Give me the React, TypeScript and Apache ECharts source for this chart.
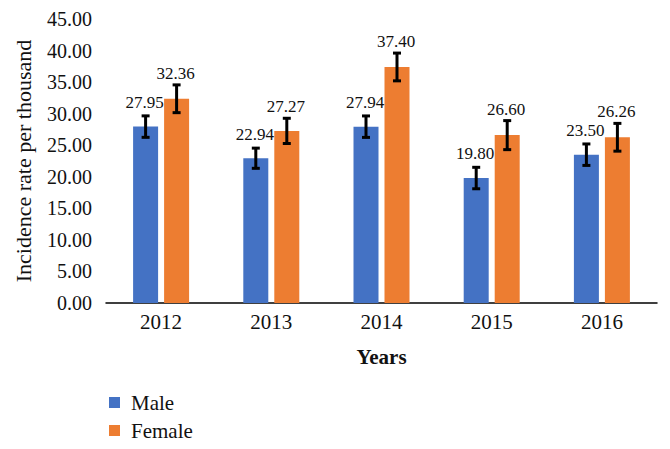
import React, { useEffect, useRef } from "react";
import * as echarts from "echarts";

const years = ["2012", "2013", "2014", "2015", "2016"];
const maleValues = [27.95, 22.94, 27.94, 19.8, 23.5];
const femaleValues = [32.36, 27.27, 37.4, 26.6, 26.26];
const maleErrors = [1.7, 1.6, 1.7, 1.7, 1.7];
const femaleErrors = [2.2, 2.0, 2.2, 2.3, 2.2];

const FONT = "'Liberation Serif', 'DejaVu Serif', serif";
const BAR_W = 25;
const GAP = 6;

function errorSeries(name: string, values: number[], errors: number[], sign: number, labelGap: number) {
  return {
    type: "custom",
    name: name + " error",
    z: 5,
    silent: true,
    data: values.map((v, i) => [i, v, errors[i]]),
    encode: { x: 0, y: 1 },
    renderItem: (params: any, api: any) => {
      const idx = api.value(0);
      const v = api.value(1);
      const e = api.value(2);
      const c = api.coord([idx, v]);
      const top = api.coord([idx, v + e]);
      const bot = api.coord([idx, v - e]);
      const x = c[0] + sign * (BAR_W + GAP) / 2;
      const cap = 4;
      const st = { stroke: "#000", lineWidth: 3 };
      return {
        type: "group",
        children: [
          { type: "line", shape: { x1: x, y1: top[1], x2: x, y2: bot[1] }, style: st },
          { type: "line", shape: { x1: x - cap, y1: top[1], x2: x + cap, y2: top[1] }, style: st },
          { type: "line", shape: { x1: x - cap, y1: bot[1], x2: x + cap, y2: bot[1] }, style: st },
          {
            type: "text",
            style: {
              text: v.toFixed(2),
              x: x - 1,
              y: top[1] - labelGap,
              align: "center",
              verticalAlign: "bottom",
              fontSize: 17,
              fontFamily: FONT,
              fill: "#111",
            },
          },
        ],
      };
    },
  };
}

export default function App() {
  const ref = useRef<HTMLDivElement>(null);
  useEffect(() => {
    document.body.style.margin = "0";
    const chart = echarts.init(ref.current!, null, { renderer: "svg" });
    chart.setOption({
      animation: false,
      backgroundColor: "#fff",
      grid: { left: 106, right: 13, top: 19, bottom: 146, containLabel: false },
      legend: {
        data: ["Male", "Female"],
        orient: "vertical",
        left: 104,
        top: 387,
        itemWidth: 11,
        itemHeight: 11,
        itemGap: 7,
        icon: "rect",
        textStyle: { fontFamily: FONT, fontSize: 21, color: "#111", padding: [0, 0, 0, 6] },
      },
      xAxis: {
        type: "category",
        data: years,
        name: "Years",
        nameLocation: "middle",
        nameGap: 43,
        nameTextStyle: { fontFamily: FONT, fontSize: 21, fontWeight: "bold", color: "#111" },
        axisLine: { show: true, lineStyle: { color: "#000", width: 1.5 } },
        axisTick: { show: false },
        axisLabel: { fontFamily: FONT, fontSize: 21, color: "#111", margin: 8 },
      },
      yAxis: {
        type: "value",
        min: 0,
        max: 45,
        interval: 5,
        name: "Incidence rate per thousand",
        nameLocation: "middle",
        nameGap: 72,
        nameTextStyle: { fontFamily: FONT, fontSize: 22, color: "#111" },
        axisLine: { show: false },
        axisTick: { show: false },
        splitLine: { show: false },
        axisLabel: {
          fontFamily: FONT,
          fontSize: 20,
          color: "#111",
          margin: 14,
          formatter: (v: number) => v.toFixed(2),
        },
      },
      series: [
        {
          type: "bar",
          name: "Male",
          data: maleValues,
          barWidth: BAR_W,
          barGap: (GAP / BAR_W) * 100 + "%",
          itemStyle: { color: "#4472C4" },
        },
        {
          type: "bar",
          name: "Female",
          data: femaleValues,
          barWidth: BAR_W,
          barGap: (GAP / BAR_W) * 100 + "%",
          itemStyle: { color: "#ED7D31" },
        },
        errorSeries("Male", maleValues, maleErrors, -1, 5),
        errorSeries("Female", femaleValues, femaleErrors, 1, 3),
      ],
    });
    return () => chart.dispose();
  }, []);
  return <div ref={ref} style={{ width: 670, height: 449 }} />;
}
